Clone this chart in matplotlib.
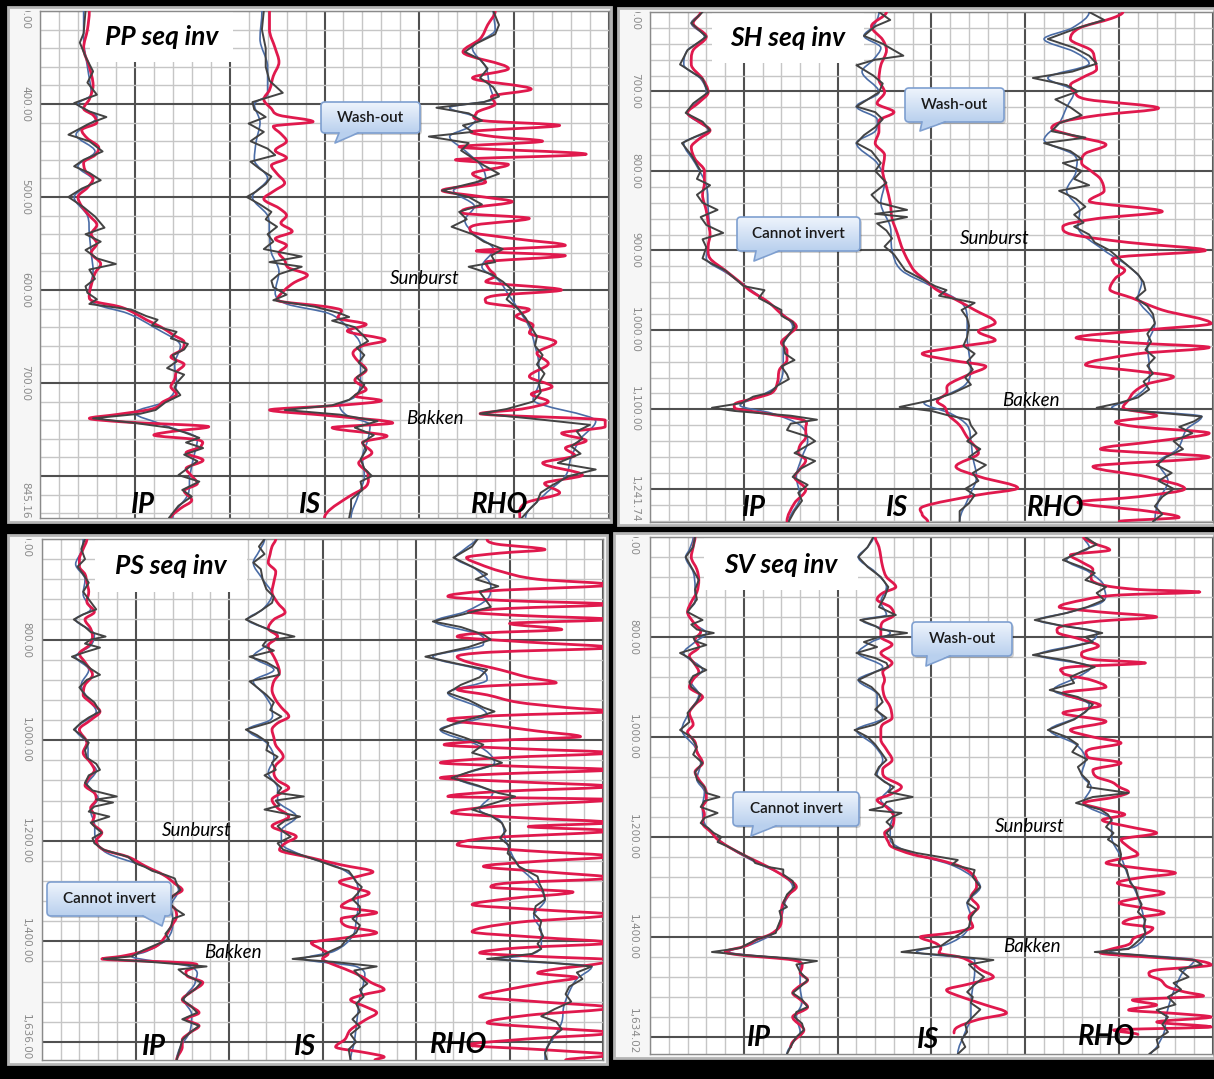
import numpy as np
import matplotlib
matplotlib.use("Agg")
import matplotlib.pyplot as plt
from matplotlib.patches import Rectangle, FancyBboxPatch, Polygon, PathPatch
from matplotlib.path import Path
from matplotlib.ticker import MultipleLocator
from matplotlib.colors import LinearSegmentedColormap

W, H = 1214, 1079
FONT = ["Lato", "DejaVu Sans"]

# ---- logs: (depth, value) with value in track divisions (0..10) ----------------
# black = well log, blue = smoothed log, red = inversion result

# PP sequential inversion
PP_DEPTH = (300.0, 845.16)
PP_TICKS = [300, 400, 500, 600, 700]
PP_IP_LOG = [(300, 2.4), (324, 2.3), (334, 2.1), (349, 2.4), (365, 2.8), (377, 2.5), (390, 3.0), (399, 1.8),
             (408, 2.6), (414, 3.5), (421, 2.6), (433, 1.5), (440, 2.6), (451, 3.3), (460, 2.3), (467, 1.8),
             (474, 2.6), (482, 3.2), (491, 2.2), (500, 1.5), (511, 2.3), (521, 2.9), (533, 3.4), (540, 2.4),
             (548, 3.2), (557, 2.4), (566, 3.0), (572, 4.0), (578, 2.6), (588, 2.9), (596, 2.4), (603, 2.5),
             (610, 3.0), (615, 2.6), (621, 4.8), (628, 5.6), (632, 6.2), (638, 5.9), (645, 7.2), (652, 6.9),
             (658, 7.8), (664, 7.6), (670, 7.0), (677, 7.2), (684, 6.7), (691, 7.6), (700, 7.2), (705, 7.1),
             (713, 7.4), (721, 6.6), (729, 6.1), (733, 5.3), (738, 2.8), (743, 5.0), (748, 6.8), (753, 7.6),
             (759, 8.4), (764, 7.7), (770, 8.6), (777, 7.6), (784, 8.3), (793, 7.7), (799, 7.3), (806, 8.4),
             (815, 7.5), (822, 8.0), (832, 7.3), (845, 6.8)]
PP_IP_SMOOTH = [(300, 2.3), (330, 2.3), (360, 2.5), (390, 2.7), (400, 2.0), (414, 3.0), (433, 1.9), (451, 2.9),
                (467, 2.0), (482, 2.8), (500, 1.8), (520, 2.5), (540, 2.6), (560, 2.7), (580, 2.8), (600, 2.6),
                (615, 2.9), (625, 4.6), (640, 6.0), (660, 7.4), (680, 7.1), (700, 7.2), (720, 6.6), (732, 5.0),
                (745, 6.5), (760, 8.3), (780, 8.1), (800, 7.9), (820, 7.8), (845, 7.0)]
PP_IP_INV = [(300, 2.6), (320, 2.5), (340, 2.3), (360, 2.6), (380, 2.8), (395, 2.6), (405, 2.3), (412, 2.8),
             (420, 3.0), (428, 2.2), (437, 2.5), (447, 3.1), (455, 2.9), (463, 2.3), (472, 2.4), (480, 2.8),
             (490, 2.5), (500, 2.0), (510, 2.2), (520, 2.6), (530, 3.0), (540, 2.7), (550, 3.0), (560, 2.7),
             (572, 3.2), (582, 2.9), (595, 2.7), (605, 2.6), (612, 2.8), (618, 4.2), (625, 5.0), (632, 5.6),
             (640, 6.4), (648, 7.0), (656, 7.6), (664, 7.5), (672, 6.9), (680, 7.6), (688, 7.2), (696, 7.1),
             (704, 6.9), (712, 7.2), (720, 6.5), (728, 5.9), (734, 4.0), (738, 2.6), (742, 4.5), (747, 8.9),
             (752, 7.0), (756, 6.0), (761, 8.3), (768, 8.5), (775, 7.7), (783, 8.6), (792, 7.7), (800, 8.0),
             (808, 8.3), (816, 7.6), (826, 8.0), (835, 7.4), (845, 6.9)]

PP_IS_LOG = [(300, 1.8), (320, 1.7), (340, 1.9), (360, 1.9), (375, 2.1), (388, 2.8), (398, 1.2), (406, 1.3),
             (414, 1.9), (421, 1.0), (430, 1.8), (440, 1.1), (448, 2.0), (455, 2.4), (462, 1.1), (470, 1.6),
             (478, 2.2), (486, 1.9), (494, 1.4), (500, 0.9), (508, 1.6), (516, 2.2), (524, 1.9), (532, 2.5),
             (540, 2.0), (548, 2.3), (556, 1.8), (564, 3.8), (570, 2.1), (575, 3.8), (583, 2.6), (590, 2.2),
             (597, 2.3), (605, 3.0), (611, 2.3), (618, 4.5), (625, 5.8), (629, 6.3), (633, 5.4), (640, 6.6),
             (648, 7.0), (655, 7.3), (662, 6.7), (670, 7.1), (678, 6.8), (686, 7.2), (694, 6.7), (702, 7.1),
             (710, 6.8), (718, 6.3), (724, 5.4), (729, 2.9), (734, 5.8), (741, 7.8), (748, 6.6), (756, 7.6),
             (764, 7.0), (772, 7.2), (782, 6.9), (792, 7.1), (800, 7.5), (806, 6.9), (815, 7.0), (825, 6.4),
             (835, 6.4), (845, 6.3)]
PP_IS_SMOOTH = [(300, 1.7), (330, 1.6), (360, 2.0), (390, 2.0), (400, 1.3), (420, 1.6), (440, 1.4), (460, 1.3),
                (480, 2.0), (500, 1.2), (520, 2.0), (540, 2.1), (560, 2.2), (580, 2.6), (603, 2.4), (615, 3.0),
                (625, 5.2), (640, 6.2), (660, 6.9), (680, 6.9), (700, 6.9), (715, 6.6), (724, 5.8), (735, 6.2),
                (745, 7.4), (760, 7.3), (780, 7.0), (800, 7.1), (820, 6.8), (845, 6.4)]
PP_IS_INV = [(300, 2.1), (320, 2.1), (340, 2.4), (355, 2.6), (370, 2.3), (385, 2.1), (395, 1.8), (405, 2.2),
             (412, 2.6), (419, 4.4), (424, 2.3), (432, 2.7), (440, 3.0), (450, 2.4), (458, 3.0), (466, 2.2),
             (475, 2.5), (485, 2.9), (494, 2.3), (502, 1.8), (512, 2.6), (520, 3.0), (528, 2.7), (537, 3.3),
             (545, 2.4), (552, 3.0), (560, 2.6), (568, 2.9), (576, 3.1), (584, 4.1), (592, 3.4), (600, 2.9),
             (611, 2.5), (618, 5.1), (622, 5.9), (630, 5.7), (637, 7.2), (644, 6.2), (654, 8.2), (660, 7.0),
             (668, 6.5), (675, 6.7), (686, 7.2), (697, 6.6), (707, 7.2), (714, 6.6), (719, 8.0), (724, 5.8),
             (729, 2.1), (735, 5.2), (743, 8.6), (748, 5.4), (757, 8.3), (764, 7.0), (775, 7.5), (786, 6.8),
             (798, 7.3), (811, 7.2), (822, 6.3), (836, 5.3), (845, 5.0)]

PP_RHO_LOG = [(300, 3.9), (315, 4.2), (325, 4.0), (335, 3.0), (344, 2.4), (352, 3.2), (362, 3.6), (372, 3.2),
              (382, 3.9), (392, 4.2), (398, 3.4), (404, 0.9), (410, 2.6), (418, 3.3), (423, 2.3), (430, 2.8),
              (435, 0.5), (442, 2.6), (450, 2.2), (458, 2.8), (466, 3.4), (475, 4.2), (484, 3.0), (493, 1.2),
              (500, 2.6), (508, 3.3), (516, 2.1), (524, 2.5), (532, 1.7), (540, 2.8), (548, 3.4), (556, 4.4),
              (563, 3.8), (570, 4.0), (575, 2.6), (583, 3.8), (591, 4.4), (600, 4.9), (610, 4.6), (620, 5.2),
              (630, 5.6), (640, 5.9), (650, 6.2), (660, 6.1), (670, 6.5), (680, 6.2), (690, 6.6), (700, 6.3),
              (710, 6.4), (720, 6.0), (728, 4.6), (733, 3.2), (738, 5.8), (745, 9.0), (752, 8.3), (760, 8.6),
              (768, 8.0), (776, 8.5), (786, 7.3), (793, 9.3), (800, 7.9), (810, 7.0), (818, 6.4), (828, 6.2),
              (836, 5.8), (845, 5.4)]
PP_RHO_SMOOTH = [(300, 3.9), (320, 4.0), (340, 2.8), (360, 3.5), (380, 3.7), (395, 3.9), (404, 1.6), (415, 3.0),
                 (425, 2.6), (435, 1.6), (450, 2.4), (465, 3.2), (480, 3.5), (493, 1.8), (510, 2.9), (525, 2.4),
                 (540, 2.9), (556, 3.9), (575, 3.3), (590, 4.2), (605, 4.7), (620, 5.2), (640, 5.8), (660, 6.1),
                 (680, 6.3), (700, 6.3), (718, 6.0), (741, 9.3), (760, 8.5), (780, 8.0), (800, 7.7), (820, 6.6),
                 (845, 5.6)]
PP_RHO_INV = [(300, 4.0), (315, 3.6), (330, 3.2), (344, 2.3), (362, 4.7), (372, 2.8), (384, 5.9), (392, 3.8),
              (400, 4.0), (410, 3.0), (418, 3.4), (423, 7.4), (430, 2.7), (435, 3.9), (440, 6.5), (446, 2.1),
              (454, 8.8), (460, 1.9), (465, 4.7), (475, 2.8), (484, 3.5), (493, 1.2), (500, 3.4), (505, 4.9),
              (512, 2.6), (517, 2.2), (523, 5.8), (530, 3.0), (537, 2.7), (545, 5.1), (552, 7.7), (558, 3.0),
              (563, 7.7), (570, 3.5), (578, 3.7), (585, 4.0), (591, 3.5), (600, 7.5), (606, 4.0), (613, 3.5),
              (621, 5.8), (628, 5.1), (638, 6.0), (646, 5.8), (656, 7.2), (668, 6.2), (679, 6.8), (693, 5.8),
              (704, 7.0), (712, 5.9), (720, 6.8), (728, 5.4), (733, 3.2), (740, 9.8), (747, 9.8), (754, 7.5),
              (762, 8.8), (770, 7.7), (778, 8.2), (786, 6.5), (799, 8.6), (808, 6.6), (818, 7.4), (829, 5.6),
              (845, 5.3)]

# SH sequential inversion
SH_DEPTH = (600.0, 1241.74)
SH_TICKS = [600, 700, 800, 900, 1000, 1100]
SH_IP_LOG = [(600, 2.8), (614, 2.2), (631, 3.0), (648, 2.0), (666, 1.6), (684, 2.8), (701, 3.1), (715, 2.3),
             (727, 1.9), (738, 2.8), (749, 3.2), (757, 2.4), (765, 1.7), (780, 2.2), (800, 2.7), (810, 2.5),
             (818, 3.2), (830, 2.5), (840, 2.8), (849, 3.6), (858, 2.7), (868, 3.0), (878, 3.9), (886, 2.8),
             (896, 3.0), (910, 2.8), (918, 3.4), (925, 4.0), (935, 4.5), (945, 5.0), (950, 6.1), (960, 5.8),
             (970, 6.6), (975, 7.0), (982, 7.0), (985, 7.2), (990, 7.6), (996, 7.7), (1006, 7.4), (1016, 7.1),
             (1030, 7.2), (1038, 7.7), (1046, 7.0), (1056, 7.3), (1062, 7.4), (1070, 6.8), (1079, 6.4),
             (1084, 5.5), (1092, 4.9), (1098, 3.3), (1102, 4.5), (1108, 7.5), (1113, 8.9), (1118, 7.5),
             (1126, 7.3), (1135, 8.5), (1140, 8.8), (1148, 8.2), (1155, 7.7), (1165, 8.8), (1175, 8.0),
             (1185, 7.6), (1195, 8.4), (1205, 7.9), (1215, 8.1), (1228, 7.7), (1241, 7.4)]
SH_IP_SMOOTH = [(600, 2.7), (614, 2.2), (631, 2.9), (648, 2.0), (666, 1.8), (684, 2.7), (701, 3.0), (727, 2.0),
                (749, 3.1), (765, 1.8), (790, 2.4), (818, 3.0), (849, 3.1), (878, 3.2), (910, 3.0), (930, 4.2),
                (950, 5.4), (975, 6.8), (996, 7.6), (1020, 7.1), (1046, 7.1), (1070, 6.8), (1084, 5.8),
                (1095, 4.8), (1105, 6.5), (1120, 8.0), (1140, 8.4), (1160, 8.1), (1185, 7.8), (1210, 8.0),
                (1241, 7.4)]
SH_IP_INV = [(600, 2.7), (614, 2.3), (631, 3.0), (648, 2.3), (666, 2.2), (684, 2.8), (701, 3.1), (714, 2.6),
             (727, 2.0), (738, 2.6), (749, 3.2), (760, 2.6), (770, 2.2), (785, 2.4), (800, 2.9), (815, 2.9),
             (830, 2.8), (850, 3.0), (865, 3.1), (880, 3.2), (895, 3.1), (910, 3.2), (925, 4.0), (940, 4.8),
             (950, 5.3), (965, 6.3), (980, 7.0), (996, 7.8), (1006, 7.4), (1016, 7.0), (1026, 7.3), (1038, 7.3),
             (1050, 6.9), (1065, 6.8), (1079, 6.5), (1086, 5.6), (1092, 4.6), (1098, 4.5), (1105, 6.1),
             (1113, 8.1), (1122, 8.3), (1135, 8.3), (1145, 8.0), (1155, 7.9), (1164, 8.3), (1175, 8.0),
             (1185, 7.7), (1201, 8.3), (1218, 7.7), (1241, 7.3)]

SH_IS_LOG = [(600, 2.2), (610, 2.8), (618, 2.0), (630, 1.4), (640, 2.4), (655, 3.5), (660, 2.0), (667, 1.0),
             (680, 1.9), (690, 2.4), (701, 2.2), (710, 1.6), (719, 1.0), (726, 2.0), (735, 2.4), (745, 2.0),
             (755, 1.4), (765, 1.0), (775, 1.8), (790, 2.3), (800, 2.0), (815, 2.6), (830, 1.8), (840, 2.2),
             (849, 3.7), (854, 2.0), (858, 3.7), (866, 2.1), (875, 2.6), (885, 2.9), (895, 2.5), (905, 3.0),
             (915, 3.3), (925, 3.6), (935, 4.4), (945, 5.2), (950, 5.8), (957, 5.4), (966, 7.3), (975, 6.6),
             (985, 6.9), (995, 7.0), (1009, 6.9), (1020, 6.7), (1030, 7.3), (1040, 6.9), (1050, 7.2),
             (1060, 6.8), (1069, 7.1), (1080, 6.1), (1088, 5.1), (1097, 3.3), (1102, 5.0), (1107, 5.8),
             (1113, 7.0), (1120, 7.1), (1130, 7.4), (1140, 6.9), (1150, 7.6), (1160, 7.0), (1170, 7.9),
             (1180, 7.2), (1190, 7.5), (1200, 6.8), (1208, 7.3), (1218, 7.0), (1228, 6.5), (1241, 6.5)]
SH_IS_SMOOTH = [(600, 2.2), (618, 1.9), (630, 1.4), (645, 2.3), (660, 1.9), (675, 1.3), (701, 2.2), (719, 1.0),
                (735, 2.1), (750, 2.0), (765, 1.0), (790, 2.1), (815, 2.5), (840, 2.3), (870, 2.8), (900, 2.9),
                (925, 3.4), (945, 5.0), (966, 6.6), (990, 6.9), (1009, 6.9), (1030, 7.0), (1046, 7.1),
                (1069, 6.8), (1085, 5.5), (1092, 4.6), (1105, 6.0), (1120, 6.9), (1140, 7.1), (1160, 7.2),
                (1185, 7.4), (1210, 7.0), (1241, 6.5)]
SH_IS_INV = [(600, 2.6), (618, 1.8), (635, 2.4), (648, 2.6), (667, 2.3), (685, 2.2), (701, 2.5), (715, 2.1),
             (726, 3.0), (737, 2.2), (750, 2.2), (765, 2.0), (780, 2.5), (800, 2.4), (820, 2.6), (840, 2.8),
             (860, 2.9), (880, 3.2), (895, 3.4), (906, 3.6), (915, 3.8), (926, 4.1), (940, 4.8), (950, 5.3),
             (962, 6.3), (975, 7.3), (991, 8.4), (1002, 7.5), (1013, 8.4), (1022, 6.2), (1030, 4.5),
             (1038, 6.0), (1046, 7.9), (1056, 7.0), (1069, 5.9), (1080, 5.8), (1090, 5.3), (1097, 5.7),
             (1107, 5.9), (1120, 6.5), (1135, 6.9), (1155, 7.5), (1172, 6.3), (1185, 7.6), (1199, 9.6),
             (1208, 7.4), (1222, 4.6), (1232, 4.5), (1241, 4.8)]

SH_RHO_LOG = [(600, 3.4), (610, 4.2), (620, 2.8), (634, 1.2), (645, 2.6), (655, 3.4), (665, 3.8), (675, 2.5),
              (683, 0.4), (692, 2.2), (700, 2.8), (710, 1.6), (720, 2.4), (730, 3.0), (740, 1.8), (750, 1.4),
              (758, 3.2), (765, 1.0), (775, 2.4), (785, 3.0), (790, 2.0), (800, 3.0), (810, 2.6), (818, 3.4),
              (825, 1.8), (835, 2.7), (845, 3.2), (855, 2.6), (865, 3.1), (870, 2.6), (880, 3.4), (890, 3.7),
              (900, 4.5), (910, 5.0), (920, 5.5), (930, 6.0), (940, 6.3), (950, 6.4), (960, 5.9), (970, 6.5),
              (980, 6.8), (992, 6.9), (1005, 6.5), (1015, 6.7), (1025, 6.4), (1035, 6.9), (1045, 6.5),
              (1055, 6.8), (1065, 6.3), (1075, 6.6), (1085, 6.0), (1092, 5.0), (1098, 3.8), (1103, 6.5),
              (1109, 9.4), (1115, 9.0), (1122, 8.2), (1130, 8.9), (1140, 7.9), (1150, 8.4), (1160, 7.5),
              (1170, 7.0), (1180, 7.8), (1190, 7.1), (1200, 7.9), (1210, 7.3), (1222, 6.9), (1232, 7.3),
              (1241, 6.8)]
SH_RHO_SMOOTH = [(600, 3.4), (620, 2.5), (634, 1.0), (650, 2.6), (665, 3.4), (683, 1.2), (700, 2.6), (720, 2.2),
                 (740, 1.8), (761, 1.0), (780, 2.6), (800, 2.7), (825, 2.2), (850, 2.9), (870, 2.8), (900, 4.2),
                 (920, 5.5), (940, 6.2), (960, 6.0), (992, 6.9), (1020, 6.5), (1045, 6.6), (1070, 6.5),
                 (1088, 5.6), (1098, 4.6), (1109, 9.4), (1125, 8.6), (1150, 8.1), (1167, 7.1), (1190, 7.6),
                 (1215, 7.1), (1241, 6.9)]
SH_RHO_INV = [(600, 5.2), (608, 4.6), (620, 2.9), (634, 2.4), (648, 3.5), (660, 3.7), (672, 3.8), (683, 3.0),
              (692, 2.4), (700, 2.6), (710, 3.3), (721, 7.1), (730, 3.9), (738, 2.0), (746, 1.4), (756, 2.6),
              (767, 4.3), (778, 3.2), (790, 3.0), (800, 3.5), (810, 4.0), (825, 4.2), (838, 3.4), (851, 7.3),
              (860, 3.8), (870, 2.0), (880, 2.5), (890, 5.5), (900, 9.6), (908, 5.1), (915, 4.7), (925, 5.3),
              (935, 4.8), (949, 4.5), (960, 5.7), (975, 7.3), (992, 9.9), (1000, 6.5), (1010, 2.7), (1016, 5.5),
              (1022, 9.8), (1030, 6.0), (1044, 3.2), (1052, 6.0), (1059, 7.9), (1068, 6.5), (1078, 5.8),
              (1088, 5.5), (1098, 5.2), (1108, 7.0), (1116, 4.8), (1122, 6.0), (1130, 9.8), (1140, 7.0),
              (1150, 4.0), (1160, 9.8), (1172, 3.6), (1185, 6.5), (1200, 8.5), (1210, 6.0), (1217, 2.8),
              (1228, 6.5), (1236, 8.2), (1241, 5.0)]

# PS sequential inversion
PS_DEPTH = (600.0, 1636.0)
PS_TICKS = [600, 800, 1000, 1200, 1400]
PS_IP_LOG = [(600, 2.3), (620, 2.1), (640, 2.3), (655, 1.9), (670, 2.2), (687, 2.5), (705, 2.2), (725, 2.6),
             (740, 2.9), (750, 2.2), (760, 1.7), (775, 2.3), (785, 2.6), (794, 3.4), (800, 2.6), (808, 2.3),
             (816, 3.1), (825, 2.3), (834, 1.6), (845, 2.2), (858, 2.6), (870, 3.1), (880, 2.4), (895, 2.0),
             (910, 2.3), (925, 2.8), (943, 3.1), (955, 2.5), (965, 2.1), (979, 1.7), (990, 2.1), (1005, 2.5),
             (1020, 2.3), (1035, 2.4), (1047, 2.9), (1059, 3.1), (1070, 2.5), (1085, 2.3), (1100, 2.7),
             (1112, 4.0), (1118, 2.9), (1124, 3.8), (1132, 2.8), (1142, 2.5), (1152, 3.6), (1164, 2.6),
             (1175, 2.9), (1184, 3.2), (1195, 2.7), (1205, 2.8), (1218, 3.3), (1232, 4.6), (1245, 5.0),
             (1252, 5.5), (1260, 5.9), (1268, 6.6), (1275, 7.1), (1285, 7.2), (1298, 7.4), (1310, 7.0),
             (1323, 6.8), (1335, 7.1), (1347, 7.6), (1355, 7.0), (1371, 6.9), (1385, 6.6), (1397, 6.8),
             (1405, 6.2), (1418, 5.4), (1430, 4.8), (1435, 3.3), (1440, 5.5), (1446, 7.5), (1450, 8.8),
             (1456, 7.3), (1465, 7.6), (1482, 8.5), (1495, 8.2), (1505, 7.8), (1516, 7.5), (1530, 8.0),
             (1542, 8.3), (1555, 7.5), (1568, 8.4), (1582, 7.9), (1596, 7.5), (1610, 7.4), (1636, 7.2)]
PS_IP_SMOOTH = [(600, 2.2), (625, 2.1), (650, 1.8), (680, 2.3), (710, 2.2), (740, 2.6), (760, 1.8), (790, 2.8),
                (812, 2.6), (834, 1.8), (860, 2.5), (890, 2.1), (920, 2.5), (943, 2.9), (979, 1.8), (1005, 2.4),
                (1040, 2.5), (1060, 2.9), (1090, 2.4), (1115, 3.0), (1140, 2.6), (1165, 2.8), (1200, 2.9),
                (1225, 3.5), (1250, 5.4), (1275, 6.8), (1298, 7.3), (1330, 6.9), (1360, 7.0), (1395, 6.7),
                (1420, 5.6), (1430, 4.8), (1450, 7.9), (1480, 8.2), (1516, 7.6), (1545, 8.0), (1580, 7.9),
                (1610, 7.4), (1636, 7.2)]
PS_IP_INV = [(600, 2.4), (620, 2.2), (640, 2.0), (655, 2.0), (670, 2.3), (687, 2.4), (705, 2.5), (725, 2.4),
             (745, 2.8), (760, 2.3), (778, 2.6), (795, 2.7), (812, 2.5), (828, 2.0), (845, 2.3), (870, 2.7),
             (890, 2.3), (910, 2.2), (925, 2.6), (943, 3.1), (960, 2.6), (979, 2.0), (1005, 2.4), (1025, 2.2),
             (1045, 2.6), (1060, 2.8), (1075, 2.5), (1090, 2.3), (1105, 2.8), (1118, 2.9), (1135, 2.6),
             (1150, 2.8), (1164, 2.7), (1184, 3.2), (1200, 2.9), (1218, 3.3), (1232, 4.6), (1250, 5.5),
             (1268, 6.5), (1285, 7.1), (1298, 7.5), (1310, 7.0), (1323, 6.7), (1335, 7.1), (1350, 7.2),
             (1371, 6.9), (1390, 6.6), (1410, 6.1), (1422, 5.2), (1430, 4.2), (1435, 3.2), (1443, 7.8),
             (1450, 8.2), (1460, 7.7), (1470, 7.8), (1482, 8.6), (1500, 8.0), (1516, 7.5), (1530, 8.0),
             (1542, 8.4), (1555, 7.7), (1568, 8.4), (1582, 7.9), (1596, 7.5), (1610, 7.5), (1636, 7.2)]

PS_IS_LOG = [(600, 1.9), (615, 1.6), (630, 1.9), (647, 1.3), (660, 1.7), (680, 1.8), (700, 2.0), (715, 2.4),
             (727, 2.3), (740, 1.8), (750, 1.4), (760, 0.9), (772, 1.6), (783, 2.3), (794, 3.5), (802, 2.0),
             (812, 1.8), (822, 2.4), (834, 1.1), (845, 2.0), (858, 2.6), (870, 2.7), (883, 1.1), (895, 1.5),
             (910, 2.0), (925, 2.4), (940, 2.2), (953, 2.8), (965, 2.2), (979, 0.9), (990, 1.5), (1005, 2.1),
             (1020, 2.0), (1033, 2.6), (1045, 2.3), (1059, 2.5), (1070, 1.9), (1082, 2.4), (1095, 2.8),
             (1105, 2.6), (1112, 4.0), (1120, 2.5), (1130, 2.7), (1138, 1.9), (1146, 3.0), (1152, 3.8),
             (1160, 3.0), (1171, 2.6), (1182, 2.9), (1192, 3.3), (1205, 2.6), (1218, 2.9), (1230, 4.0),
             (1240, 4.8), (1252, 5.7), (1260, 6.4), (1270, 6.6), (1282, 6.8), (1292, 7.1), (1304, 6.9),
             (1316, 6.6), (1331, 7.0), (1343, 7.0), (1355, 6.6), (1368, 7.0), (1383, 6.8), (1395, 6.3),
             (1410, 6.0), (1420, 5.4), (1428, 5.0), (1435, 3.4), (1441, 5.6), (1450, 7.9), (1458, 6.7),
             (1470, 7.0), (1484, 7.4), (1496, 7.0), (1510, 7.2), (1524, 6.8), (1540, 7.0), (1555, 6.6),
             (1570, 7.0), (1585, 6.5), (1600, 6.8), (1615, 6.4), (1636, 6.5)]
PS_IS_SMOOTH = [(600, 1.9), (625, 1.6), (647, 1.3), (680, 1.8), (710, 2.3), (740, 1.8), (760, 1.0), (790, 2.6),
                (812, 2.0), (834, 1.3), (860, 2.4), (883, 1.3), (910, 1.9), (940, 2.3), (960, 2.2), (979, 1.0),
                (1005, 2.0), (1035, 2.4), (1065, 2.1), (1095, 2.6), (1120, 2.6), (1152, 3.6), (1180, 2.8),
                (1205, 2.8), (1230, 4.0), (1252, 5.8), (1275, 6.7), (1300, 6.9), (1330, 6.9), (1360, 6.8),
                (1390, 6.6), (1420, 5.6), (1435, 4.0), (1450, 6.8), (1480, 7.2), (1510, 7.0), (1540, 6.9),
                (1570, 6.8), (1600, 6.7), (1636, 6.5)]
PS_IS_INV = [(600, 2.5), (615, 2.3), (630, 2.2), (647, 2.1), (665, 2.5), (685, 2.4), (705, 2.3), (727, 2.6),
             (746, 3.0), (760, 2.4), (778, 2.1), (794, 2.6), (812, 2.1), (834, 2.4), (850, 2.6), (865, 2.7),
             (883, 2.4), (900, 2.3), (920, 2.5), (935, 2.8), (953, 3.2), (966, 2.6), (979, 2.3), (995, 2.4),
             (1010, 2.5), (1033, 2.9), (1050, 2.5), (1065, 2.4), (1080, 2.6), (1095, 3.2), (1105, 2.8),
             (1118, 2.3), (1135, 2.6), (1152, 3.2), (1171, 2.3), (1192, 3.6), (1205, 3.0), (1218, 2.7),
             (1234, 4.4), (1248, 6.0), (1262, 7.7), (1270, 7.0), (1282, 5.9), (1293, 6.6), (1304, 7.5),
             (1318, 6.5), (1331, 6.0), (1343, 7.9), (1355, 6.0), (1370, 6.3), (1383, 7.9), (1393, 6.2),
             (1403, 4.4), (1415, 4.9), (1425, 5.3), (1435, 5.0), (1445, 5.5), (1455, 6.2), (1470, 7.1),
             (1482, 7.6), (1496, 8.3), (1506, 7.2), (1516, 6.5), (1530, 7.3), (1542, 7.9), (1556, 7.3),
             (1576, 6.5), (1595, 6.2), (1610, 5.7), (1622, 7.4), (1630, 8.3), (1636, 7.8)]

PS_RHO_LOG = [(600, 3.3), (615, 3.0), (637, 2.0), (655, 3.0), (670, 3.8), (680, 3.2), (694, 4.4), (705, 3.4),
              (720, 3.7), (735, 4.0), (750, 2.5), (764, 0.9), (775, 2.4), (790, 3.6), (800, 4.0), (815, 2.8),
              (825, 1.6), (834, 0.5), (848, 2.2), (860, 3.8), (875, 3.4), (890, 2.4), (906, 1.7), (920, 2.8),
              (935, 3.6), (943, 4.2), (955, 3.2), (965, 2.2), (979, 1.3), (995, 2.6), (1009, 3.6), (1025, 3.0),
              (1035, 3.9), (1045, 4.6), (1060, 3.1), (1075, 1.9), (1090, 3.3), (1105, 4.4), (1112, 5.3),
              (1125, 4.2), (1138, 3.0), (1150, 4.0), (1165, 4.6), (1180, 4.8), (1195, 4.5), (1210, 5.0),
              (1225, 4.9), (1240, 5.3), (1251, 5.5), (1271, 6.5), (1285, 6.6), (1300, 6.8), (1317, 6.9),
              (1330, 6.4), (1345, 6.3), (1360, 6.7), (1375, 6.6), (1390, 6.8), (1405, 6.5), (1415, 6.7),
              (1425, 6.2), (1435, 3.8), (1442, 7.0), (1450, 9.4), (1462, 8.6), (1475, 8.9), (1490, 8.2),
              (1505, 8.0), (1520, 8.3), (1535, 7.4), (1549, 6.7), (1560, 7.5), (1575, 7.8), (1590, 7.3),
              (1605, 7.1), (1622, 6.9), (1636, 7.0)]
PS_RHO_SMOOTH = [(600, 3.2), (620, 2.6), (637, 2.1), (660, 3.2), (694, 4.0), (720, 3.8), (745, 2.6), (764, 1.0),
                 (790, 3.4), (810, 3.6), (834, 0.9), (860, 3.4), (880, 3.8), (906, 1.7), (935, 3.4), (950, 3.8),
                 (979, 1.3), (1010, 3.3), (1045, 4.2), (1075, 2.2), (1105, 4.1), (1138, 3.4), (1160, 4.5),
                 (1200, 4.8), (1251, 5.5), (1280, 6.3), (1317, 6.9), (1350, 6.3), (1380, 6.7), (1410, 6.7),
                 (1428, 6.0), (1435, 4.4), (1450, 9.4), (1475, 8.6), (1500, 8.2), (1530, 7.9), (1560, 7.8),
                 (1590, 7.4), (1622, 6.9), (1636, 6.9)]
PS_RHO_INV = [(600, 3.8), (610, 4.3), (621, 6.9), (628, 4.5), (637, 2.7), (650, 3.4), (665, 4.6), (680, 6.5),
              (691, 10.5), (703, 4.0), (714, 1.7), (722, 4.5), (730, 10.5), (738, 5.0), (745, 2.8), (752, 5.5),
              (760, 10.5), (768, 5.0), (780, 7.8), (787, 3.5), (794, 2.2), (805, 6.0), (816, 10.5), (825, 4.0),
              (834, 2.2), (845, 2.8), (860, 4.5), (875, 6.0), (886, 7.5), (892, 4.0), (899, 2.2), (910, 3.8),
              (925, 5.5), (935, 8.0), (943, 10.5), (951, 4.5), (959, 1.7), (970, 4.0), (982, 6.5), (993, 8.8),
              (1001, 4.0), (1009, 1.5), (1017, 5.5), (1025, 10.5), (1035, 4.5), (1045, 1.3), (1052, 5.5),
              (1059, 10.5), (1067, 4.5), (1075, 1.3), (1083, 5.5), (1092, 10.5), (1102, 4.5), (1112, 1.7),
              (1118, 10.5), (1131, 4.5), (1144, 1.9), (1154, 5.5), (1164, 10.5), (1172, 6.0), (1180, 10.5),
              (1194, 4.0), (1208, 2.2), (1220, 6.0), (1231, 10.5), (1241, 6.5), (1251, 3.6), (1262, 7.0),
              (1274, 10.5), (1284, 5.0), (1292, 4.0), (1302, 8.4), (1315, 5.0), (1327, 3.0), (1337, 6.5),
              (1347, 10.5), (1362, 5.5), (1381, 3.0), (1392, 6.5), (1403, 10.5), (1413, 5.5), (1423, 3.4),
              (1430, 6.5), (1437, 10.5), (1446, 9.5), (1455, 7.5), (1463, 6.5), (1472, 8.6), (1482, 7.0),
              (1495, 5.0), (1510, 3.4), (1520, 6.5), (1532, 10.5), (1547, 6.0), (1562, 3.8), (1572, 7.0),
              (1582, 10.5), (1594, 6.0), (1606, 2.8), (1616, 7.0), (1626, 10.5), (1636, 8.0)]

# SV sequential inversion
SV_DEPTH = (600.0, 1634.02)
SV_TICKS = [600, 800, 1000, 1200, 1400]
SV_IP_LOG = [(600, 2.4), (620, 2.3), (640, 1.9), (660, 2.2), (686, 2.6), (705, 2.4), (725, 2.5), (750, 2.0),
             (766, 2.8), (775, 2.2), (785, 2.5), (792, 3.4), (800, 2.3), (808, 2.4), (816, 3.0), (825, 2.2),
             (832, 1.6), (842, 2.1), (855, 2.4), (866, 3.0), (878, 2.3), (890, 2.1), (900, 2.2), (915, 2.7),
             (930, 2.5), (952, 2.0), (970, 2.1), (986, 1.6), (1000, 2.2), (1020, 2.5), (1035, 2.3), (1052, 2.8),
             (1070, 2.4), (1085, 2.5), (1100, 2.9), (1112, 3.0), (1120, 3.7), (1128, 2.9), (1140, 2.7),
             (1152, 3.6), (1162, 2.9), (1172, 2.7), (1182, 3.1), (1192, 3.4), (1200, 3.8), (1210, 3.6),
             (1220, 4.2), (1232, 4.8), (1246, 5.5), (1252, 5.6), (1260, 6.3), (1265, 7.1), (1275, 7.1),
             (1288, 7.6), (1300, 7.7), (1315, 7.3), (1332, 7.1), (1340, 7.3), (1348, 6.9), (1362, 7.0),
             (1380, 6.8), (1392, 6.7), (1405, 5.7), (1414, 5.2), (1422, 4.8), (1430, 3.3), (1436, 5.0),
             (1442, 7.2), (1448, 8.9), (1455, 7.8), (1470, 8.0), (1486, 8.4), (1500, 8.0), (1512, 7.6),
             (1525, 8.1), (1540, 8.4), (1550, 7.8), (1560, 7.7), (1573, 8.1), (1586, 8.2), (1600, 7.8),
             (1612, 7.6), (1634, 7.3)]
SV_IP_SMOOTH = [(600, 2.3), (625, 2.1), (640, 1.9), (670, 2.3), (700, 2.4), (730, 2.4), (750, 2.0), (775, 2.4),
                (792, 3.0), (810, 2.4), (832, 1.8), (866, 2.8), (890, 2.2), (915, 2.6), (950, 2.1), (986, 1.7),
                (1020, 2.4), (1052, 2.7), (1085, 2.5), (1110, 2.9), (1140, 2.8), (1172, 2.9), (1200, 3.5),
                (1225, 4.4), (1250, 5.6), (1275, 7.0), (1300, 7.6), (1330, 7.2), (1360, 7.0), (1392, 6.6),
                (1415, 5.4), (1430, 4.2), (1448, 8.0), (1470, 8.0), (1500, 8.0), (1530, 8.1), (1560, 7.8),
                (1590, 8.0), (1612, 7.6), (1634, 7.3)]
SV_IP_INV = [(600, 2.4), (620, 2.3), (640, 2.2), (665, 2.5), (686, 2.6), (710, 2.5), (730, 2.2), (750, 2.0),
             (770, 2.3), (790, 2.7), (805, 2.4), (820, 2.6), (838, 2.1), (855, 2.4), (870, 2.6), (885, 2.3),
             (900, 2.1), (920, 2.8), (935, 2.4), (952, 2.1), (975, 2.3), (990, 2.0), (1010, 2.4), (1030, 2.5),
             (1052, 2.8), (1070, 2.4), (1085, 2.6), (1100, 2.9), (1112, 3.0), (1126, 3.0), (1140, 2.8),
             (1155, 2.9), (1172, 2.8), (1192, 3.3), (1205, 3.6), (1220, 4.2), (1240, 5.2), (1260, 6.3),
             (1280, 7.2), (1300, 7.8), (1315, 7.4), (1332, 7.1), (1350, 7.0), (1365, 7.0), (1380, 6.9),
             (1395, 6.4), (1405, 5.7), (1418, 5.1), (1430, 4.0), (1436, 4.8), (1446, 7.6), (1460, 8.1),
             (1472, 8.0), (1486, 8.4), (1500, 7.9), (1512, 7.6), (1525, 8.0), (1540, 8.4), (1560, 7.6),
             (1586, 8.2), (1610, 7.6), (1620, 7.5)]

SV_IS_LOG = [(600, 1.9), (620, 1.6), (640, 1.1), (660, 1.6), (680, 2.3), (700, 2.7), (720, 2.5), (740, 2.2),
             (756, 3.1), (766, 1.2), (778, 2.0), (785, 2.3), (792, 3.7), (800, 2.2), (810, 1.4), (820, 2.1),
             (832, 1.0), (842, 2.0), (852, 2.6), (860, 2.7), (870, 2.0), (886, 1.1), (900, 1.8), (915, 2.2),
             (930, 2.4), (945, 2.0), (962, 2.6), (975, 2.0), (986, 0.9), (1000, 1.6), (1015, 2.0), (1030, 2.3),
             (1046, 2.6), (1060, 2.2), (1075, 2.0), (1090, 2.5), (1100, 3.0), (1110, 2.7), (1120, 4.0),
             (1130, 2.6), (1140, 2.4), (1146, 1.7), (1152, 3.4), (1160, 2.9), (1170, 2.6), (1180, 2.9),
             (1192, 2.6), (1205, 2.9), (1220, 3.0), (1232, 4.2), (1246, 6.4), (1255, 6.1), (1266, 7.3),
             (1280, 7.2), (1300, 7.6), (1315, 7.2), (1332, 6.9), (1345, 7.4), (1360, 7.1), (1380, 7.0),
             (1392, 6.6), (1405, 6.0), (1418, 5.5), (1430, 3.4), (1436, 5.6), (1446, 8.3), (1455, 7.0),
             (1466, 7.3), (1480, 7.8), (1495, 7.3), (1510, 6.9), (1520, 7.2), (1532, 7.1), (1545, 7.6),
             (1560, 7.2), (1575, 6.8), (1590, 6.9), (1605, 6.6), (1620, 6.8), (1634, 6.4)]
SV_IS_SMOOTH = [(600, 1.9), (620, 1.6), (640, 1.1), (670, 2.0), (700, 2.6), (730, 2.3), (756, 2.6), (766, 1.3),
                (792, 2.8), (810, 1.8), (832, 1.1), (860, 2.4), (886, 1.1), (915, 2.1), (945, 2.1), (962, 2.4),
                (986, 1.0), (1015, 1.9), (1046, 2.4), (1075, 2.1), (1100, 2.8), (1126, 2.3), (1152, 3.0),
                (1180, 2.8), (1205, 2.8), (1232, 3.9), (1255, 6.0), (1280, 7.2), (1300, 7.6), (1332, 6.9),
                (1360, 7.1), (1392, 6.8), (1415, 5.8), (1430, 4.2), (1446, 7.3), (1470, 7.3), (1500, 7.2),
                (1532, 7.1), (1560, 7.1), (1590, 6.8), (1634, 6.4)]
SV_IS_INV = [(600, 2.0), (620, 2.2), (640, 2.3), (660, 2.4), (680, 2.6), (700, 3.1), (712, 2.4), (725, 2.1),
             (740, 2.8), (756, 3.0), (770, 2.4), (785, 2.3), (800, 2.3), (815, 2.9), (832, 2.3), (852, 2.9),
             (870, 2.4), (886, 2.5), (900, 2.4), (920, 2.5), (940, 2.8), (962, 2.9), (975, 2.4), (986, 2.3),
             (1005, 2.3), (1025, 2.6), (1046, 2.9), (1065, 2.4), (1080, 2.5), (1100, 3.4), (1115, 2.8),
             (1126, 2.1), (1140, 2.6), (1160, 3.0), (1180, 2.9), (1192, 2.5), (1210, 2.7), (1220, 2.9),
             (1235, 4.0), (1246, 5.4), (1260, 6.6), (1280, 7.3), (1300, 7.4), (1320, 7.1), (1340, 7.5),
             (1360, 7.0), (1380, 7.2), (1392, 6.0), (1400, 4.4), (1412, 5.2), (1422, 5.5), (1432, 5.4),
             (1440, 6.5), (1450, 7.1), (1465, 7.6), (1480, 8.3), (1494, 7.0), (1506, 5.8), (1520, 6.6),
             (1535, 7.8), (1552, 9.0), (1565, 7.5), (1580, 6.4), (1592, 6.2)]

SV_RHO_LOG = [(600, 3.2), (615, 3.8), (630, 2.9), (646, 2.0), (660, 3.0), (672, 3.7), (686, 3.2), (700, 4.3),
              (712, 3.8), (726, 4.2), (740, 3.3), (752, 2.2), (766, 0.5), (778, 2.0), (785, 3.3), (792, 4.1),
              (800, 3.2), (810, 3.6), (822, 2.2), (836, 0.4), (848, 2.4), (860, 3.7), (870, 3.0), (880, 2.4),
              (892, 2.6), (906, 1.3), (920, 2.8), (935, 3.6), (950, 3.2), (965, 2.6), (986, 1.2), (1000, 2.2),
              (1015, 2.8), (1030, 2.5), (1045, 3.3), (1060, 2.8), (1075, 3.0), (1090, 3.4), (1100, 3.3),
              (1112, 5.5), (1120, 3.6), (1132, 2.7), (1145, 4.0), (1155, 4.4), (1166, 4.6), (1180, 4.3),
              (1192, 4.7), (1205, 4.4), (1220, 5.0), (1235, 5.1), (1252, 5.0), (1265, 5.4), (1280, 5.5),
              (1292, 5.6), (1305, 5.9), (1320, 6.0), (1335, 6.2), (1350, 6.0), (1365, 6.4), (1380, 6.3),
              (1392, 6.4), (1405, 6.1), (1415, 5.8), (1424, 5.5), (1430, 3.7), (1436, 6.0), (1446, 9.0),
              (1455, 9.4), (1465, 8.2), (1480, 8.7), (1492, 7.9), (1505, 8.3), (1520, 7.6), (1535, 8.0),
              (1546, 7.0), (1560, 7.6), (1575, 7.3), (1590, 7.6), (1605, 7.0), (1620, 7.1), (1634, 6.6)]
SV_RHO_SMOOTH = [(600, 3.1), (620, 3.4), (646, 2.2), (670, 3.4), (700, 4.2), (730, 4.1), (750, 2.4), (766, 0.7),
                 (792, 3.8), (810, 3.4), (836, 0.7), (860, 3.5), (880, 2.8), (906, 1.5), (935, 3.4), (960, 2.8),
                 (986, 1.3), (1015, 2.7), (1045, 3.2), (1075, 3.0), (1100, 3.5), (1132, 3.1), (1166, 4.6),
                 (1200, 4.6), (1240, 5.1), (1280, 5.5), (1320, 6.0), (1360, 6.3), (1392, 6.4), (1420, 5.8),
                 (1430, 4.5), (1446, 9.0), (1470, 8.4), (1500, 8.0), (1530, 7.7), (1560, 7.5), (1590, 7.4),
                 (1620, 7.0), (1634, 6.7)]
SV_RHO_INV = [(600, 3.1), (612, 3.6), (626, 4.5), (636, 2.4), (650, 3.0), (665, 3.6), (680, 3.5), (695, 4.0),
              (705, 6.0), (710, 9.3), (716, 5.0), (725, 3.2), (740, 1.8), (750, 4.0), (760, 7.0), (768, 4.0),
              (778, 2.0), (790, 1.7), (805, 3.0), (818, 3.9), (832, 3.0), (845, 3.6), (852, 6.4), (860, 2.4),
              (872, 2.0), (886, 3.5), (900, 4.3), (912, 2.0), (925, 3.0), (937, 4.0), (952, 2.0), (969, 4.3),
              (986, 2.4), (1000, 3.6), (1012, 5.1), (1025, 3.4), (1040, 3.3), (1052, 5.1), (1066, 3.6),
              (1080, 3.8), (1090, 4.6), (1100, 5.0), (1110, 5.5), (1120, 4.8), (1132, 3.1), (1145, 4.2),
              (1155, 5.3), (1166, 4.1), (1180, 5.6), (1192, 7.0), (1205, 5.1), (1220, 5.5), (1235, 6.0),
              (1252, 4.3), (1262, 6.0), (1272, 8.0), (1282, 6.0), (1292, 4.9), (1302, 6.0), (1312, 7.4),
              (1322, 6.0), (1332, 5.0), (1342, 6.3), (1352, 7.4), (1362, 5.8), (1372, 5.2), (1382, 6.8),
              (1392, 6.5), (1402, 5.8), (1415, 5.5), (1425, 4.5), (1432, 4.0), (1440, 6.5), (1446, 8.9),
              (1456, 9.9), (1466, 7.0), (1476, 6.6), (1486, 7.2), (1500, 7.6), (1510, 8.5), (1518, 9.5),
              (1526, 5.7), (1536, 7.0), (1546, 5.5), (1553, 8.0), (1560, 9.9), (1570, 7.0), (1580, 9.9),
              (1586, 4.7), (1595, 6.0)]

TRACK_NAMES = ["IP", "IS", "RHO"]

# ---- page layout (pixels, y measured from the top) ----------------------------
PANELS = [
    dict(title="PP seq inv", depth=PP_DEPTH, ticks=PP_TICKS, major=100, minor=20,
         frame=(8, 7, 611, 522), plot=(40, 11, 609, 518), title_box=(90, 10, 233, 62),
         tracks=[(PP_IP_LOG, PP_IP_SMOOTH, PP_IP_INV), (PP_IS_LOG, PP_IS_SMOOTH, PP_IS_INV),
                 (PP_RHO_LOG, PP_RHO_SMOOTH, PP_RHO_INV)],
         track_xy=[(143, 505), (310, 505), (500, 505)],
         sunburst=(425, 279), bakken=(435, 418),
         callouts=[("Wash-out", (321, 102, 420, 133), (339, 358, 335, 143))]),
    dict(title="SH seq inv", depth=SH_DEPTH, ticks=SH_TICKS, major=100, minor=20,
         frame=(618, 8, 1214, 525), plot=(650, 12, 1213, 522), title_box=(712, 12, 864, 63),
         tracks=[(SH_IP_LOG, SH_IP_SMOOTH, SH_IP_INV), (SH_IS_LOG, SH_IS_SMOOTH, SH_IS_INV),
                 (SH_RHO_LOG, SH_RHO_SMOOTH, SH_RHO_INV)],
         track_xy=[(754, 508), (897, 508), (1056, 508)],
         sunburst=(995, 239), bakken=(1031, 401),
         callouts=[("Wash-out", (905, 88, 1004, 122), (922, 945, 920, 131)),
                   ("Cannot invert", (737, 217, 860, 251), (756, 779, 754, 261))]),
    dict(title="PS seq inv", depth=PS_DEPTH, ticks=PS_TICKS, major=200, minor=40,
         frame=(8, 535, 607, 1064), plot=(42, 539, 603, 1060), title_box=(95, 539, 247, 592),
         tracks=[(PS_IP_LOG, PS_IP_SMOOTH, PS_IP_INV), (PS_IS_LOG, PS_IS_SMOOTH, PS_IS_INV),
                 (PS_RHO_LOG, PS_RHO_SMOOTH, PS_RHO_INV)],
         track_xy=[(154, 1047), (305, 1047), (459, 1045)],
         sunburst=(197, 831), bakken=(233, 952),
         callouts=[("Cannot invert", (47, 882, 171, 916), (143, 165, 162, 926))]),
    dict(title="SV seq inv", depth=SV_DEPTH, ticks=SV_TICKS, major=200, minor=40,
         frame=(614, 533, 1214, 1058), plot=(650, 537, 1213, 1054), title_box=(704, 538, 858, 590),
         tracks=[(SV_IP_LOG, SV_IP_SMOOTH, SV_IP_INV), (SV_IS_LOG, SV_IS_SMOOTH, SV_IS_INV),
                 (SV_RHO_LOG, SV_RHO_SMOOTH, SV_RHO_INV)],
         track_xy=[(759, 1038), (928, 1040), (1107, 1037)],
         sunburst=(1030, 826), bakken=(1032, 947),
         callouts=[("Wash-out", (912, 622, 1012, 656), (927, 950, 926, 666)),
                   ("Cannot invert", (733, 792, 859, 826), (753, 776, 751, 836))]),
]

COL_LOG, COL_SMOOTH, COL_INV = "#434343", "#4a6ca6", "#e0194d"
CALLOUT_CMAP = LinearSegmentedColormap.from_list("callout", ["#eef4fc", "#b9d0ee"])


def frac(x0, y0, x1, y1):
    return [x0 / W, 1 - y1 / H, (x1 - x0) / W, (y1 - y0) / H]


def curve_path(series):
    """Smooth Bezier path through every (depth, value) point; flat tangent at turning points."""
    d = np.array([s[0] for s in series], float)
    v = np.array([s[1] for s in series], float)
    n = len(d)
    m = np.zeros(n)
    for i in range(1, n - 1):
        if (v[i] - v[i - 1]) * (v[i + 1] - v[i]) > 0:
            m[i] = (v[i + 1] - v[i - 1]) / (d[i + 1] - d[i - 1])
    verts, codes = [(v[0], d[0])], [Path.MOVETO]
    for i in range(n - 1):
        h = d[i + 1] - d[i]
        verts += [(v[i] + m[i] * h / 3, d[i] + h / 3), (v[i + 1] - m[i + 1] * h / 3, d[i + 1] - h / 3),
                  (v[i + 1], d[i + 1])]
        codes += [Path.CURVE4] * 3
    return Path(verts, codes)


def callout(ax, text, box, tail):
    x0, y0, x1, y1 = box
    t0, t1, tx, ty = tail
    shadow = FancyBboxPatch((x0 + 2, y0 + 2), x1 - x0, y1 - y0, boxstyle="round,pad=0,rounding_size=4",
                            fc="#000000", alpha=0.18, ec="none", zorder=5)
    ax.add_patch(shadow)
    patch = FancyBboxPatch((x0, y0), x1 - x0, y1 - y0, boxstyle="round,pad=0,rounding_size=4",
                           fc="none", ec="#7e9fd0", lw=1.2, zorder=7)
    ax.add_patch(patch)
    grad = np.linspace(0, 1, 64).reshape(-1, 1)
    im = ax.imshow(grad, extent=(x0, x1, y1, y0), cmap=CALLOUT_CMAP, aspect="auto", zorder=6,
                   interpolation="bilinear")
    im.set_clip_path(patch)
    ax.add_patch(Polygon([(t0, y1 - 1), (t1, y1 - 1), (tx, ty)], closed=True, fc="#b9d0ee", ec="none",
                         zorder=7.5))
    ax.plot([t0, tx, t1], [y1, ty, y1], color="#7e9fd0", lw=1.2, zorder=7.6)
    ax.text((x0 + x1) / 2, (y0 + y1) / 2, text, ha="center", va="center", fontsize=11,
            fontweight="semibold", color="#1a1a1a", family=FONT, zorder=8)


def draw_panel(fig, over, p):
    fx0, fy0, fx1, fy1 = p["frame"]
    px0, py0, px1, py1 = p["plot"]
    top, bottom = p["depth"]

    fig.add_artist(Rectangle((fx0 / W, 1 - fy1 / H), (fx1 - fx0) / W, (fy1 - fy0) / H,
                             transform=fig.transFigure, fc="#f6f6f6", ec="#b5b5b5", lw=2, zorder=-1))

    # depth strip
    sx = fig.add_axes(frac(fx0 + 2, py0, px0, py1))
    sx.set_xlim(0, 1)
    sx.set_ylim(bottom, top)
    sx.set_facecolor("white")
    sx.axis("off")
    for d in p["ticks"]:
        sx.text(0.5, d, f"{d:,.2f}", rotation=-90, ha="center", va="center", fontsize=7.5,
                color="#8a8a8a", clip_on=True)
    sx.text(0.5, bottom, f"{bottom:,.2f}", rotation=-90, ha="center", va="bottom", fontsize=7.5,
            color="#8a8a8a", clip_on=True)

    # grid background
    ax = fig.add_axes(frac(px0, py0, px1, py1))
    ax.set_xlim(0, 30)
    ax.set_ylim(bottom, top)
    ax.set_facecolor("white")
    ax.xaxis.set_major_locator(MultipleLocator(5))
    ax.xaxis.set_minor_locator(MultipleLocator(1))
    ax.yaxis.set_major_locator(MultipleLocator(p["major"]))
    ax.yaxis.set_minor_locator(MultipleLocator(p["minor"]))
    ax.grid(which="minor", color="#c6c6c6", lw=1.0)
    ax.grid(which="major", color="#505050", lw=1.5)
    ax.set_axisbelow(True)
    ax.tick_params(which="both", length=0, labelleft=False, labelbottom=False)
    for s in ax.spines.values():
        s.set_color("#8a8a8a")
        s.set_linewidth(1.0)

    bx0, by0, bx1, by1 = p["title_box"]
    ax.add_patch(Rectangle((bx0 / W, 1 - by1 / H), (bx1 - bx0) / W, (by1 - by0) / H,
                           transform=fig.transFigure, fc="white", ec="none", zorder=1))

    # log tracks
    tw = (px1 - px0) / 3.0
    for k, (log, smooth, inv) in enumerate(p["tracks"]):
        tx = fig.add_axes(frac(px0 + k * tw, py0, px0 + (k + 1) * tw, py1), zorder=2)
        tx.set_xlim(0, 10)
        tx.set_ylim(bottom, top)
        tx.set_facecolor("none")
        tx.axis("off")
        d, v = zip(*log)
        tx.plot(v, d, color=COL_LOG, lw=1.4, solid_joinstyle="round", solid_capstyle="round")
        tx.add_patch(PathPatch(curve_path(smooth), fc="none", ec=COL_SMOOTH, lw=1.2, joinstyle="round"))
        tx.add_patch(PathPatch(curve_path(inv), fc="none", ec=COL_INV, lw=2.0, joinstyle="round",
                               capstyle="round"))

    # labels on top
    over.text((bx0 + bx1) / 2, (by0 + by1) / 2 + 1, p["title"], ha="center", va="center",
              fontsize=19, fontweight="bold", fontstyle="italic", family=FONT)
    for name, (x, y) in zip(TRACK_NAMES, p["track_xy"]):
        over.text(x, y, name, ha="center", va="center", fontsize=20, fontweight="bold",
                  fontstyle="italic", family=FONT)
    over.text(*p["sunburst"], "Sunburst", ha="center", va="center", fontsize=13.5,
              fontstyle="italic", family=FONT)
    over.text(*p["bakken"], "Bakken", ha="center", va="center", fontsize=13.5,
              fontstyle="italic", family=FONT)
    for text, box, tail in p["callouts"]:
        callout(over, text, box, tail)


fig = plt.figure(figsize=(W / 100, H / 100), dpi=100, facecolor="black")
over = fig.add_axes([0, 0, 1, 1], zorder=10)
over.set_facecolor("none")

for panel in PANELS:
    draw_panel(fig, over, panel)

over.set_xlim(0, W)
over.set_ylim(H, 0)
over.axis("off")

fig.savefig("out.png", dpi=100, facecolor="black")
